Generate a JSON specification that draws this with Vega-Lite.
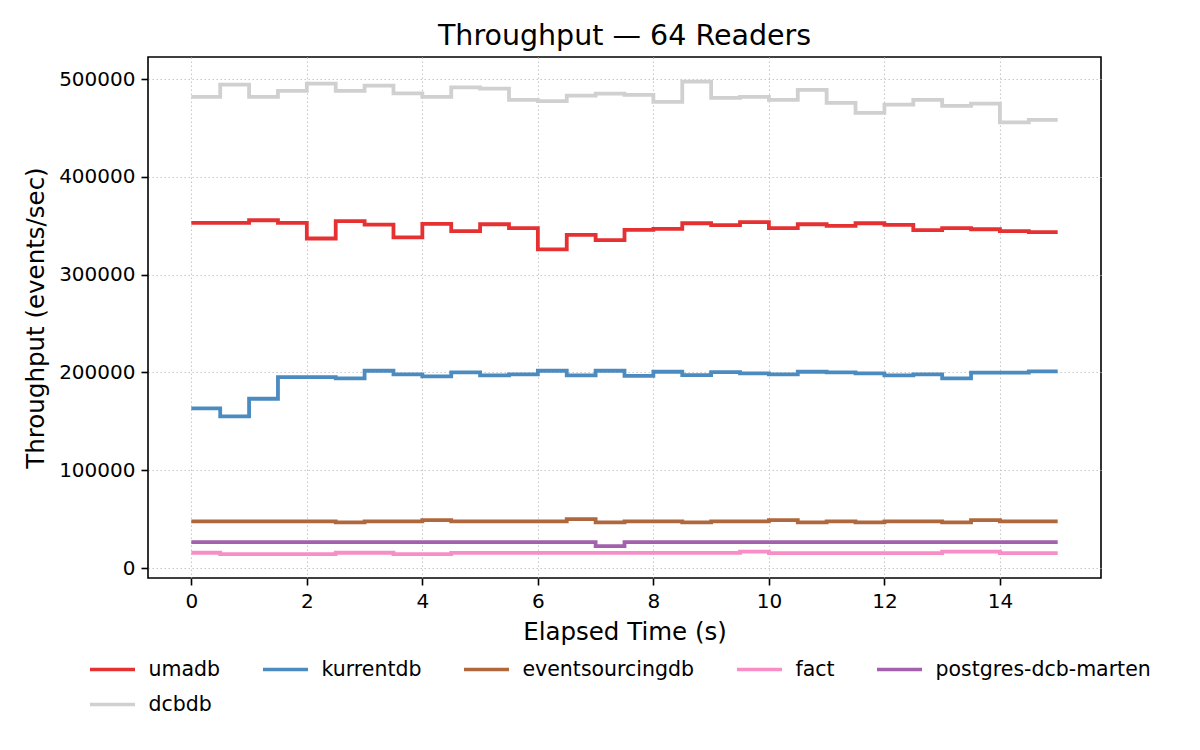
{
  "$schema": "https://vega.github.io/schema/vega-lite/v6.json",
  "width": 953,
  "height": 521,
  "autosize": "none",
  "padding": {"left": 148, "top": 57, "right": 99, "bottom": 172},
  "background": "white",
  "title": {
    "text": "Throughput — 64 Readers",
    "font": "DejaVu Sans",
    "fontSize": 28.5,
    "fontWeight": "normal",
    "color": "black",
    "offset": 7
  },
  "data": {
    "values": [
      {"t": 0, "umadb": 352900, "kurrentdb": 163300, "eventsourcingdb": 47600, "fact": 15600, "postgres-dcb-marten": 26500, "dcbdb": 481700},
      {"t": 0.5, "umadb": 352900, "kurrentdb": 155100, "eventsourcingdb": 47600, "fact": 14300, "postgres-dcb-marten": 26500, "dcbdb": 494200},
      {"t": 1, "umadb": 355600, "kurrentdb": 173100, "eventsourcingdb": 47600, "fact": 14300, "postgres-dcb-marten": 26500, "dcbdb": 481700},
      {"t": 1.5, "umadb": 352900, "kurrentdb": 195200, "eventsourcingdb": 47600, "fact": 14300, "postgres-dcb-marten": 26500, "dcbdb": 487800},
      {"t": 2, "umadb": 336900, "kurrentdb": 195200, "eventsourcingdb": 47600, "fact": 14300, "postgres-dcb-marten": 26500, "dcbdb": 495300},
      {"t": 2.5, "umadb": 354600, "kurrentdb": 193900, "eventsourcingdb": 46600, "fact": 15600, "postgres-dcb-marten": 26500, "dcbdb": 487800},
      {"t": 3, "umadb": 351200, "kurrentdb": 201700, "eventsourcingdb": 47600, "fact": 15600, "postgres-dcb-marten": 26500, "dcbdb": 493200},
      {"t": 3.5, "umadb": 338000, "kurrentdb": 198000, "eventsourcingdb": 47600, "fact": 14300, "postgres-dcb-marten": 26500, "dcbdb": 485400},
      {"t": 4, "umadb": 351900, "kurrentdb": 195900, "eventsourcingdb": 49000, "fact": 14300, "postgres-dcb-marten": 26500, "dcbdb": 481700},
      {"t": 4.5, "umadb": 344400, "kurrentdb": 200000, "eventsourcingdb": 47600, "fact": 15500, "postgres-dcb-marten": 26500, "dcbdb": 491500},
      {"t": 5, "umadb": 351500, "kurrentdb": 196900, "eventsourcingdb": 47600, "fact": 15500, "postgres-dcb-marten": 26500, "dcbdb": 490200},
      {"t": 5.5, "umadb": 347500, "kurrentdb": 198000, "eventsourcingdb": 47600, "fact": 15500, "postgres-dcb-marten": 26500, "dcbdb": 478600},
      {"t": 6, "umadb": 325800, "kurrentdb": 201700, "eventsourcingdb": 47600, "fact": 15500, "postgres-dcb-marten": 26500, "dcbdb": 477300},
      {"t": 6.5, "umadb": 340700, "kurrentdb": 196900, "eventsourcingdb": 50000, "fact": 15500, "postgres-dcb-marten": 26500, "dcbdb": 483100},
      {"t": 7, "umadb": 335300, "kurrentdb": 201700, "eventsourcingdb": 46600, "fact": 15500, "postgres-dcb-marten": 22400, "dcbdb": 485100},
      {"t": 7.5, "umadb": 345800, "kurrentdb": 196500, "eventsourcingdb": 47600, "fact": 15500, "postgres-dcb-marten": 26500, "dcbdb": 483700},
      {"t": 8, "umadb": 346800, "kurrentdb": 200700, "eventsourcingdb": 47600, "fact": 15500, "postgres-dcb-marten": 26500, "dcbdb": 476600},
      {"t": 8.5, "umadb": 352500, "kurrentdb": 197300, "eventsourcingdb": 46600, "fact": 15500, "postgres-dcb-marten": 26500, "dcbdb": 497300},
      {"t": 9, "umadb": 350500, "kurrentdb": 200300, "eventsourcingdb": 47600, "fact": 15500, "postgres-dcb-marten": 26500, "dcbdb": 480700},
      {"t": 9.5, "umadb": 353600, "kurrentdb": 199000, "eventsourcingdb": 47600, "fact": 16700, "postgres-dcb-marten": 26500, "dcbdb": 481700},
      {"t": 10, "umadb": 347500, "kurrentdb": 198000, "eventsourcingdb": 49000, "fact": 15300, "postgres-dcb-marten": 26500, "dcbdb": 478600},
      {"t": 10.5, "umadb": 351500, "kurrentdb": 200700, "eventsourcingdb": 46600, "fact": 15300, "postgres-dcb-marten": 26500, "dcbdb": 488800},
      {"t": 11, "umadb": 349800, "kurrentdb": 200000, "eventsourcingdb": 47600, "fact": 15300, "postgres-dcb-marten": 26500, "dcbdb": 475600},
      {"t": 11.5, "umadb": 352500, "kurrentdb": 199000, "eventsourcingdb": 46600, "fact": 15300, "postgres-dcb-marten": 26500, "dcbdb": 465400},
      {"t": 12, "umadb": 350800, "kurrentdb": 196900, "eventsourcingdb": 47600, "fact": 15300, "postgres-dcb-marten": 26500, "dcbdb": 473900},
      {"t": 12.5, "umadb": 345400, "kurrentdb": 198000, "eventsourcingdb": 47600, "fact": 15300, "postgres-dcb-marten": 26500, "dcbdb": 478600},
      {"t": 13, "umadb": 347500, "kurrentdb": 193900, "eventsourcingdb": 46600, "fact": 16700, "postgres-dcb-marten": 26500, "dcbdb": 472500},
      {"t": 13.5, "umadb": 346400, "kurrentdb": 199700, "eventsourcingdb": 49000, "fact": 16700, "postgres-dcb-marten": 26500, "dcbdb": 474900},
      {"t": 14, "umadb": 344400, "kurrentdb": 199700, "eventsourcingdb": 47600, "fact": 15300, "postgres-dcb-marten": 26500, "dcbdb": 455600},
      {"t": 14.5, "umadb": 343400, "kurrentdb": 201000, "eventsourcingdb": 47600, "fact": 15300, "postgres-dcb-marten": 26500, "dcbdb": 458300},
      {"t": 15, "umadb": 343400, "kurrentdb": 201000, "eventsourcingdb": 47600, "fact": 15300, "postgres-dcb-marten": 26500, "dcbdb": 458300}
    ]
  },
  "transform": [
    {"fold": ["umadb", "kurrentdb", "eventsourcingdb", "fact", "postgres-dcb-marten", "dcbdb"], "as": ["db", "v"]}
  ],
  "mark": {"type": "line", "interpolate": "step-after", "strokeWidth": 3.8, "clip": true},
  "encoding": {
    "x": {
      "field": "t",
      "type": "quantitative",
      "title": "Elapsed Time (s)",
      "scale": {"domain": [-0.75, 15.75], "nice": false, "zero": false},
      "axis": {"values": [0, 2, 4, 6, 8, 10, 12, 14], "titlePadding": 9}
    },
    "y": {
      "field": "v",
      "type": "quantitative",
      "title": "Throughput (events/sec)",
      "scale": {"domain": [-10200, 522500], "nice": false, "zero": false},
      "axis": {"values": [0, 100000, 200000, 300000, 400000, 500000], "format": "d", "titlePadding": 10}
    },
    "color": {
      "field": "db",
      "type": "nominal",
      "scale": {
        "domain": ["umadb", "kurrentdb", "eventsourcingdb", "fact", "postgres-dcb-marten", "dcbdb"],
        "range": ["#e63133", "#4b8bbf", "#af673e", "#f88ec6", "#a360ac", "#d0d0d0"]
      },
      "legend": {
        "orient": "none",
        "legendX": -60,
        "legendY": 588,
        "direction": "horizontal",
        "columns": 5,
        "title": null
      }
    }
  },
  "config": {
    "font": "DejaVu Sans",
    "view": {"stroke": "black", "strokeWidth": 1.6},
    "axis": {
      "domain": false,
      "grid": true,
      "gridColor": "#c8c8c8",
      "gridWidth": 1.1,
      "gridDash": [1.5, 2.5],
      "ticks": true,
      "tickColor": "black",
      "tickSize": 7,
      "tickWidth": 1.6,
      "labelFont": "DejaVu Sans",
      "labelFontSize": 20,
      "labelColor": "black",
      "labelPadding": 6,
      "titleFont": "DejaVu Sans",
      "titleFontSize": 24.5,
      "titleFontWeight": "normal",
      "titleColor": "black"
    },
    "legend": {
      "labelFont": "DejaVu Sans",
      "labelFontSize": 20.5,
      "labelColor": "black",
      "labelLimit": 500,
      "symbolType": "stroke",
      "symbolSize": 2025,
      "symbolStrokeWidth": 3.6,
      "labelOffset": 11.5,
      "columnPadding": 34,
      "rowPadding": -4.5,
      "padding": 0
    }
  }
}
